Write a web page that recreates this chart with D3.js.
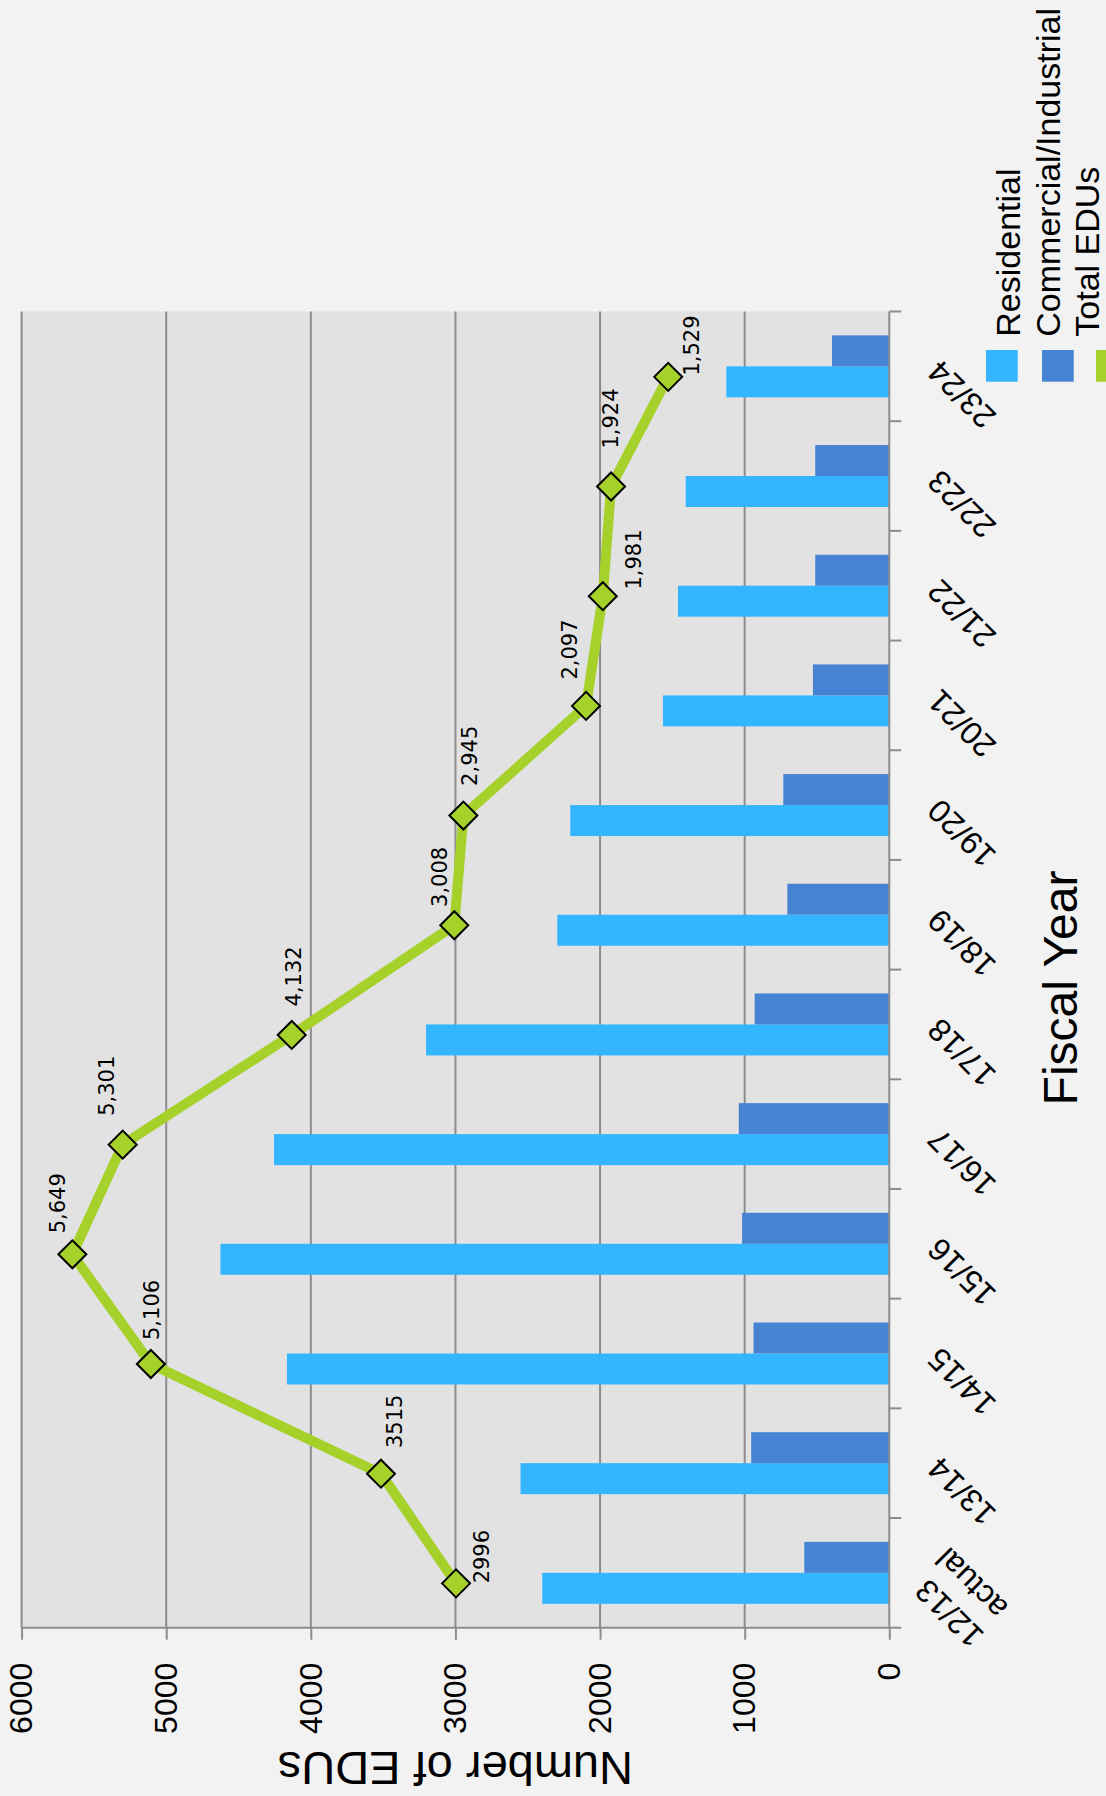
<!DOCTYPE html>
<html>
<head>
<meta charset="utf-8">
<script src="https://cdn.jsdelivr.net/npm/d3@7"></script>
<style>
  html, body { margin: 0; padding: 0; background: #f2f2f2; }
  svg { display: block; }
</style>
</head>
<body>
<svg id="chart" width="1106" height="1796"></svg>
<script>
// ---- data ----
const categories = ["12/13 actual", "13/14", "14/15", "15/16", "16/17", "17/18",
                    "18/19", "19/20", "20/21", "21/22", "22/23", "23/24"];
const seriesNames = ["Residential", "Commercial/Industrial", "Total EDUs"];
const residential = [2400, 2550, 4165, 4625, 4255, 3203, 2296, 2206, 1565, 1461, 1408, 1127];
const commercial  = [588, 955, 939, 1018, 1041, 931, 705, 733, 528, 512, 512, 396];
const totalEDUs   = [2996, 3515, 5106, 5649, 5301, 4132, 3008, 2945, 2097, 1981, 1924, 1529];
const totalLabels = ["2996", "3515", "5,106", "5,649", "5,301", "4,132",
                     "3,008", "2,945", "2,097", "1,981", "1,924", "1,529"];
const valueTicks  = [0, 1000, 2000, 3000, 4000, 5000, 6000];

// ---- layout (drawn as a normal column chart, then turned a quarter turn) ----
const W = 1796, H = 1106;            // unrotated drawing size
const plot = { left: 168.3, right: 1484.5, top: 21.6, bottom: 889.3 };
const colors = { res: "#33b6ff", com: "#4684d3", total: "#a6d12a" };
// label nudges relative to each total point: [along, across]
const labelNudge = [[0, 33], [25.6, 21], [24, 8.6], [21, -7.7], [28.8, -8.7], [28.5, 8.8],
                    [18.3, -7.2], [29.7, 13.4], [26.3, -8.7], [6.6, 38], [38, 7.3], [1.3, 31.3]];

const svg = d3.select("#chart");
svg.append("rect").attr("width", 1106).attr("height", 1796).attr("fill", "#f2f2f2");

const g = svg.append("g").attr("transform", `translate(0,${W}) rotate(-90)`);

const x0 = d3.scaleBand().domain(categories).range([plot.left, plot.right])
  .paddingInner(0).paddingOuter(0);
const x1 = d3.scaleBand().domain(["res", "com"]).range([0, x0.bandwidth()])
  .paddingInner(0).paddingOuter(0.77);
const y = d3.scaleLinear().domain([0, 6000]).range([plot.bottom, plot.top]);

// plot background
g.append("rect")
  .attr("x", plot.left).attr("y", plot.top)
  .attr("width", plot.right - plot.left).attr("height", plot.bottom - plot.top)
  .attr("fill", "#e2e2e2");

// gridlines
g.append("g").selectAll("line").data(valueTicks.filter(v => v > 0)).join("line")
  .attr("x1", plot.left).attr("x2", plot.right)
  .attr("y1", d => y(d)).attr("y2", d => y(d))
  .attr("stroke", "#8c8c8c").attr("stroke-width", 2);

// bars
const rows = categories.map((c, i) => ({ c, res: residential[i], com: commercial[i], total: totalEDUs[i], label: totalLabels[i], i }));
const barG = g.append("g");
barG.selectAll("rect.res").data(rows).join("rect").attr("class", "res")
  .attr("x", d => x0(d.c) + x1("res")).attr("width", x1.bandwidth())
  .attr("y", d => y(d.res)).attr("height", d => y(0) - y(d.res))
  .attr("fill", colors.res);
barG.selectAll("rect.com").data(rows).join("rect").attr("class", "com")
  .attr("x", d => x0(d.c) + x1("com")).attr("width", x1.bandwidth())
  .attr("y", d => y(d.com)).attr("height", d => y(0) - y(d.com))
  .attr("fill", colors.com);

// value axis (left in the unrotated drawing)
const yAxis = d3.axisLeft(y).tickValues(valueTicks).tickSize(12).tickPadding(23)
  .tickFormat(d3.format("d"));
const yA = g.append("g").attr("transform", `translate(${plot.left},0)`).call(yAxis);
yA.select(".domain").attr("stroke", "#8c8c8c").attr("stroke-width", 2)
  .attr("d", `M0,${plot.top}V${plot.bottom}`);
yA.selectAll(".tick line").attr("stroke", "#8c8c8c").attr("stroke-width", 2);
yA.selectAll(".tick text").attr("font-family", "Liberation Sans, Arial, sans-serif")
  .attr("font-size", 32).attr("fill", "#000");

// category axis
const xA = g.append("g").attr("transform", `translate(0,${plot.bottom})`);
xA.append("line").attr("x1", plot.left).attr("x2", plot.right)
  .attr("stroke", "#8c8c8c").attr("stroke-width", 2);
const bounds = categories.map(c => x0(c)).concat([x0(categories[categories.length - 1]) + x0.bandwidth()]);
xA.selectAll("line.tk").data(bounds).join("line").attr("class", "tk")
  .attr("x1", d => d).attr("x2", d => d).attr("y1", 0).attr("y2", 12)
  .attr("stroke", "#8c8c8c").attr("stroke-width", 2);
const catText = xA.selectAll("text.cat").data(categories).join("text").attr("class", "cat")
  .attr("transform", d => `translate(${x0(d) + x0.bandwidth() / 2},44) rotate(-45)`)
  .attr("text-anchor", "end")
  .attr("font-family", "Liberation Sans, Arial, sans-serif")
  .attr("font-size", 32).attr("fill", "#000");
catText.each(function (d) {
  const parts = d.split(" ");
  const t = d3.select(this);
  if (parts.length === 1) {
    t.append("tspan").attr("x", 0).attr("dy", "0.35em").text(d);
  } else {
    t.append("tspan").attr("x", 0).attr("dy", "-0.2em").text(parts[0]);
    t.append("tspan").attr("x", 8).attr("dy", "1.15em").text(parts[1]);
  }
});

// total line
const px = d => x0(d.c) + x0.bandwidth() / 2 - 10.5;
g.append("path").datum(rows)
  .attr("d", d3.line().x(px).y(d => y(d.total)))
  .attr("fill", "none").attr("stroke", colors.total).attr("stroke-width", 10)
  .attr("stroke-linejoin", "round");
g.append("g").selectAll("path").data(rows).join("path")
  .attr("transform", d => `translate(${px(d)},${y(d.total)})`)
  .attr("d", "M0,-14L14,0L0,14L-14,0Z")
  .attr("fill", colors.total).attr("stroke", "#000").attr("stroke-width", 2);
g.append("g").selectAll("text").data(rows).join("text")
  .attr("x", d => px(d) + labelNudge[d.i][0])
  .attr("y", d => y(d.total) + labelNudge[d.i][1])
  .attr("font-family", "DejaVu Sans, sans-serif").attr("font-size", 21).attr("fill", "#000")
  .text(d => d.label);

// axis titles
g.append("text").attr("x", 808).attr("y", 1076.7).attr("text-anchor", "middle")
  .attr("font-family", "Liberation Sans, Arial, sans-serif").attr("font-size", 48)
  .text("Fiscal Year");
g.append("text").attr("transform", `translate(44.3,${(plot.top + plot.bottom) / 2}) rotate(-90)`)
  .attr("text-anchor", "middle")
  .attr("font-family", "Liberation Sans, Arial, sans-serif").attr("font-size", 47)
  .text("Number of EDUs");

// legend
const leg = g.append("g");
leg.append("rect").attr("x", 1414.3).attr("y", 986).attr("width", 31.7).attr("height", 31.7).attr("fill", colors.res);
leg.append("rect").attr("x", 1414.3).attr("y", 1042).attr("width", 31.7).attr("height", 31.7).attr("fill", colors.com);
leg.append("line").attr("x1", 1414.3).attr("x2", 1446).attr("y1", 1101).attr("y2", 1101)
  .attr("stroke", colors.total).attr("stroke-width", 10);
leg.selectAll("text").data(seriesNames).join("text")
  .attr("x", 1459.3).attr("y", (d, i) => [1020, 1060, 1099][i])
  .attr("font-family", "Liberation Sans, Arial, sans-serif").attr("font-size", 34)
  .text(d => d);
</script>
</body>
</html>
